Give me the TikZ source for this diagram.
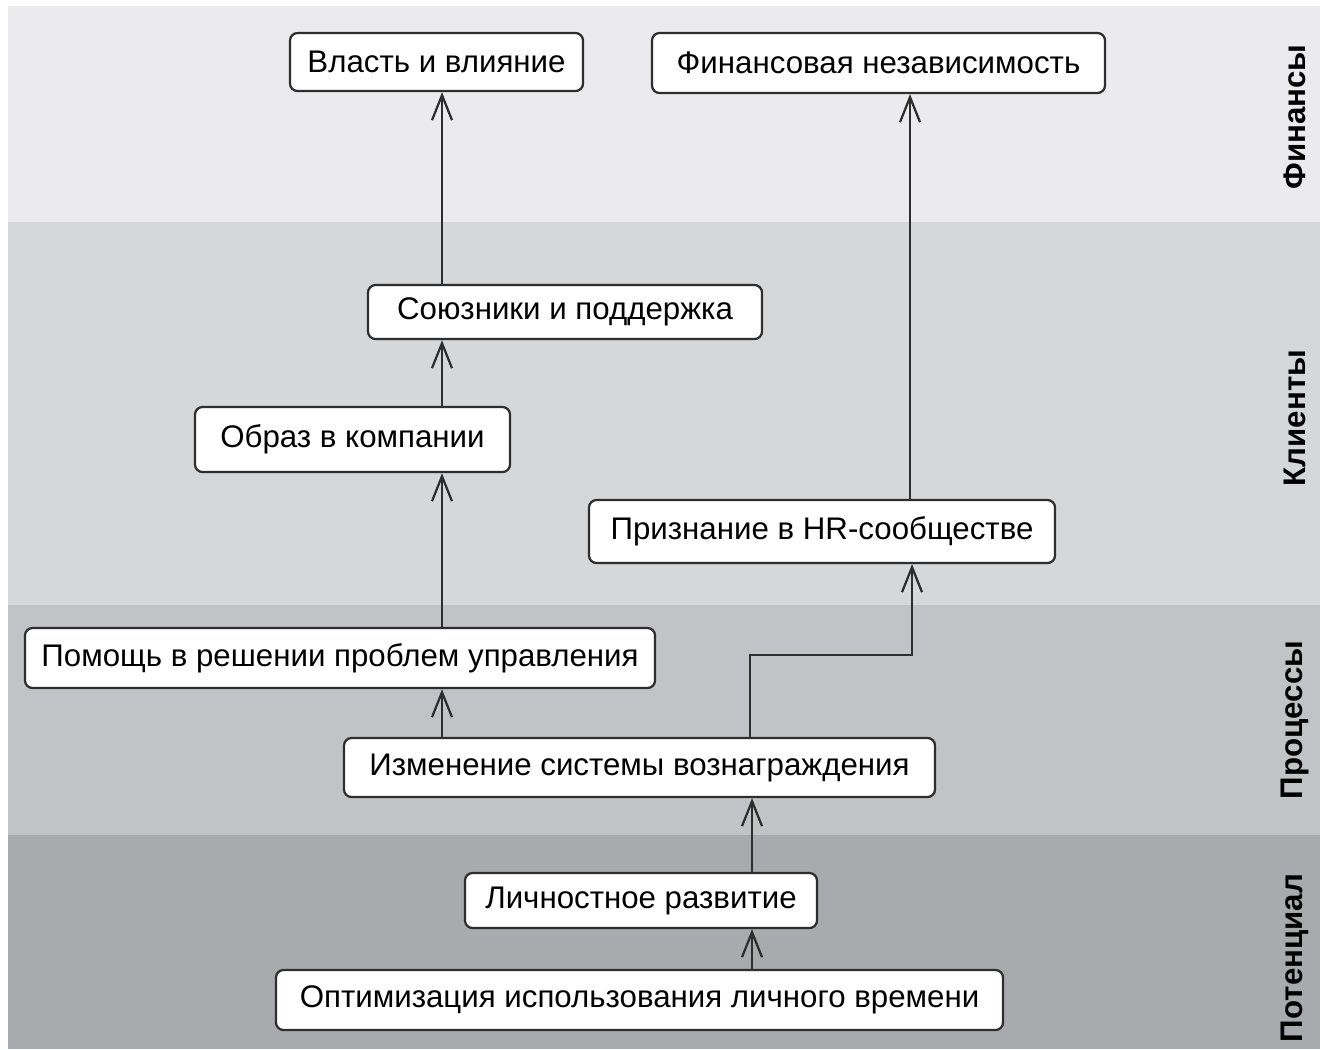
\documentclass[tikz,border=0pt]{standalone}
\usepackage{fontspec}
\setmainfont{Liberation Sans}
\usetikzlibrary{arrows.meta}
\definecolor{bandA}{HTML}{EBEBED}
\definecolor{bandB}{HTML}{D6D7D9}
\definecolor{bandC}{HTML}{C2C3C6}
\definecolor{bandD}{HTML}{A8AAAD}
\definecolor{edge}{HTML}{2E2E2E}
\tikzset{
  box/.style={draw=edge, line width=0.9pt, fill=white, rounded corners=3pt,
    inner sep=0pt, align=center, font=\fontsize{12.5}{14}\selectfont},
  arr/.style={draw=edge, line width=0.9pt, -{Straight Barb[length=10pt,width=8pt,line width=0.9pt]}},
  side/.style={rotate=90, font=\bfseries\fontsize{12.5}{14}\selectfont, inner sep=0pt},
}
\begin{document}
\begin{tikzpicture}[x=0.4pt,y=-0.4pt]
\useasboundingbox (0,0) rectangle (1320,1049);
\fill[white] (0,0) rectangle (1320,1049);
\fill[bandA] (8,6) rectangle (1320,222);
\fill[bandB] (8,222) rectangle (1320,605);
\fill[bandC] (8,605) rectangle (1320,835);
\fill[bandD] (8,835) rectangle (1320,1049);

\node[side] (lfin) at (1295,117) {Финансы};
\node[side] (lcli) at (1295,418) {Клиенты};
\node[side] (lpro) at (1295,720) {Процессы};
\node[side] (lpot) at (1295,958) {Потенциал};

\node[box, minimum width=117.2pt, minimum height=23.2pt] (vl) at (436.5,62) {Власть и влияние};
\node[box, minimum width=181.2pt, minimum height=24pt] (fin) at (878.5,63) {Финансовая независимость};
\node[box, minimum width=157.6pt, minimum height=21.6pt] (soy) at (565,312) {Союзники и поддержка};
\node[box, minimum width=126pt, minimum height=26pt] (obr) at (352.5,439.5) {Образ в компании};
\node[box, minimum width=186.4pt, minimum height=25.2pt] (pri) at (822,531.5) {Признание в HR-сообществе};
\node[box, minimum width=252pt, minimum height=24pt] (pom) at (340,658) {Помощь в решении проблем управления};
\node[box, minimum width=236.4pt, minimum height=23.6pt] (izm) at (639.5,767.5) {Изменение системы вознаграждения};
\node[box, minimum width=140.8pt, minimum height=22pt] (lic) at (641,900.5) {Личностное развитие};
\node[box, minimum width=290.8pt, minimum height=24pt] (opt) at (639.5,1000) {Оптимизация использования личного времени};

\coordinate (xl) at (442,0);
\coordinate (xb) at (752,0);
\coordinate (xr) at (910,0);
\coordinate (e1) at (750,655);
\coordinate (e2) at (912,655);

\draw[arr] (opt.north -| xb) -- (lic.south -| xb);
\draw[arr] (lic.north -| xb) -- (izm.south -| xb);
\draw[arr] (izm.north -| e1) -- (e1) -- (e2) -- (pri.south -| e2);
\draw[arr] (izm.north -| xl) -- (pom.south -| xl);
\draw[arr] (pom.north -| xl) -- (obr.south -| xl);
\draw[arr] (obr.north -| xl) -- (soy.south -| xl);
\draw[arr] (soy.north -| xl) -- (vl.south -| xl);
\draw[arr] (pri.north -| xr) -- (fin.south -| xr);
\end{tikzpicture}
\end{document}
